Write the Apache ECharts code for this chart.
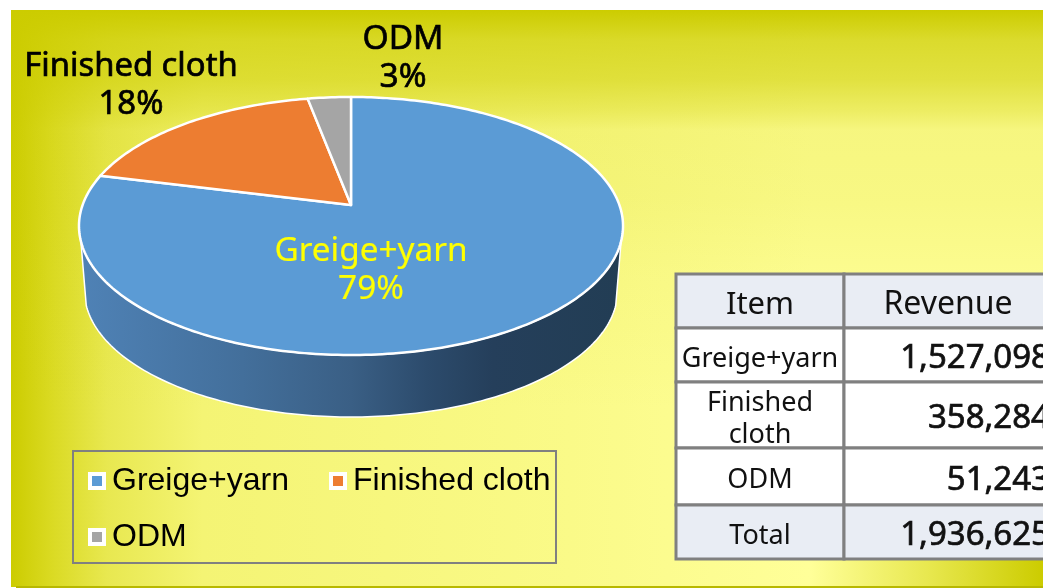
<!DOCTYPE html>
<html><head><meta charset="utf-8">
<style>html,body{margin:0;padding:0;background:#fff}#c{width:1043px;height:588px}</style>
<script src="https://cdn.jsdelivr.net/npm/echarts@6/dist/echarts.min.js"></script>
</head><body><div id="c"></div>
<script>
const categories = ['Greige+yarn', 'Finished cloth', 'ODM'];
const pieShares = [78.9, 18.1, 3.0];
const revenues = [1527098, 358284, 51243];
const tableHeaders = ['Item', 'Revenue'];
const tableRowLabels = ['Greige+yarn', 'Finished\ncloth', 'ODM'];
const totalLabel = 'Total';
const totalRevenue = 1936625;
const colors = ['#5B9BD5', '#ED7D31', '#A5A5A5'];
const labelColors = ['#FFFF00', '#000000', '#000000'];
const labelAnchors = [[371, 270.5], [131, 86], [403, 58.5]];
const labelFonts = ['33.3px "Noto Sans"', '32.8px "Noto Sans"', '33.5px "Noto Sans"'];

const sum = pieShares.reduce((a, b) => a + b, 0);
const cx = 351, apexY = 205, a = 268.4, b = 125.6, k = 0.1628, wallDy = 65, wallScale = 0.98;
const wallFrom = 106, wallTo = 254;

function project(deg, scale, dy) {
  const t = deg * Math.PI / 180, x = Math.sin(t), y = Math.cos(t), d = 1 + k * y;
  return [cx + scale * a * x / d, apexY + dy - scale * b * y / d];
}
function arc(from, to, scale, dy) {
  const out = [], n = Math.max(2, Math.ceil(Math.abs(to - from)));
  for (let i = 0; i <= n; i++) out.push(project(from + (to - from) * i / n, scale, dy));
  return out;
}
const wallFill = new echarts.graphic.LinearGradient(79, 0, 623, 0, [
  {offset: 0, color: '#4F82B6'}, {offset: .3, color: '#436F9B'}, {offset: .5, color: '#3A5F85'},
  {offset: .64, color: '#2C4B6C'}, {offset: .76, color: '#253F5B'}, {offset: 1, color: '#223D54'}
], true);

let acc = 0;
const spans = pieShares.map(v => { const s = acc; acc += v / sum * 360; return [s, acc]; });

const series = categories.map((name, i) => ({
  type: 'custom', name, coordinateSystem: 'none', silent: true,
  itemStyle: {color: colors[i]},
  data: [pieShares[i]],
  z: 3 + i,
  renderItem() {
    const [s, e] = spans[i], children = [];
    const lo = Math.max(s, wallFrom), hi = Math.min(e, wallTo);
    if (hi > lo) {
      children.push({type: 'polygon',
        shape: {points: arc(lo, hi, 1, 0).concat(arc(hi, lo, wallScale, wallDy))},
        style: {fill: wallFill, stroke: '#FFFFFF', lineWidth: 1.5}});
    }
    children.push({type: 'polygon',
      shape: {points: [[cx, apexY]].concat(arc(s, e, 1, 0))},
      style: {fill: colors[i], stroke: '#FFFFFF', lineWidth: 2.5, lineJoin: 'round'}});
    children.push({type: 'text', z2: 50, style: {
      x: labelAnchors[i][0], y: labelAnchors[i][1], align: 'center', verticalAlign: 'middle',
      text: name + '\n' + Math.round(pieShares[i] / sum * 100) + '%',
      fill: labelColors[i], stroke: labelColors[i], lineWidth: i === 0 ? 0.2 : 0.7,
      font: labelFonts[i], lineHeight: 38}});
    return {type: 'group', children};
  }
}));

const bg = [
  {type: 'rect', z: -10, shape: {x: 11, y: 10, width: 1032, height: 577},
   style: {fill: new echarts.graphic.LinearGradient(11, 0, 810, 0, [
     {offset: 0, color: '#CCCC00'}, {offset: .05, color: '#DADA22'}, {offset: .12, color: '#E8E850'},
     {offset: .24, color: '#F4F474'}, {offset: .7, color: '#FAFA88'}, {offset: 1, color: '#FFFF99'}], true)}},
  {type: 'rect', z: -9, shape: {x: 11, y: 10, width: 1032, height: 400},
   style: {fill: new echarts.graphic.LinearGradient(0, 10, 0, 410, [
     {offset: 0, color: 'rgba(204,204,0,1)'}, {offset: .075, color: 'rgba(204,204,0,.71)'},
     {offset: .175, color: 'rgba(204,204,0,.58)'}, {offset: .25, color: 'rgba(204,204,0,.36)'},
     {offset: .3, color: 'rgba(204,204,0,.17)'}, {offset: .475, color: 'rgba(204,204,0,.14)'},
     {offset: .65, color: 'rgba(204,204,0,.07)'}, {offset: 1, color: 'rgba(204,204,0,0)'}], true)}},
  {type: 'rect', z: -8, shape: {x: 810, y: 530, width: 233, height: 57},
   style: {fill: new echarts.graphic.LinearGradient(810, 0, 1043, 0, [
     {offset: 0, color: '#FFFF99'}, {offset: .5, color: '#E8E850'}, {offset: 1, color: '#CCCC00'}], true)}},
  {type: 'rect', z: -7, shape: {x: 16, y: 586, width: 1027, height: 2}, style: {fill: '#B8B800'}},
  {type: 'rect', z: -6, shape: {x: 73, y: 451, width: 483, height: 112},
   style: {fill: 'transparent', stroke: '#808080', lineWidth: 2}}
];

const colX = [676, 844, 1060];
const rowY = [274, 328, 382, 448, 505, 559];
const rows = [[tableHeaders[0], tableHeaders[1]]]
  .concat(tableRowLabels.map((l, i) => [l, revenues[i].toLocaleString('en-US')]))
  .concat([[totalLabel, totalRevenue.toLocaleString('en-US')]]);
const table = [];
rows.forEach((row, r) => {
  const fill = (r === 0 || r === rows.length - 1) ? '#E9EDF4' : '#FFFFFF';
  [0, 1].forEach(c => {
    table.push({type: 'rect', z: 10,
      shape: {x: colX[c], y: rowY[r], width: colX[c + 1] - colX[c], height: rowY[r + 1] - rowY[r]},
      style: {fill, stroke: '#808080', lineWidth: 3}});
    const my = (rowY[r] + rowY[r + 1]) / 2;
    const head = r === 0, num = c === 1 && !head;
    table.push({type: 'text', z: 11, style: {
      x: c === 0 ? 760 : head ? 948 : 1050, y: my + 4,
      align: num ? 'right' : 'center', verticalAlign: 'middle',
      text: row[c], fill: '#111111', lineHeight: 32,
      stroke: num ? '#111111' : 'transparent', lineWidth: num ? 0.7 : 0,
      font: head ? (c === 1 ? '32px "Noto Sans"' : '31px "Noto Sans"') : num ? '33px "Noto Sans"' : '27px "Noto Sans"'}});
  });
});

const legendBase = {
  show: true, top: 465, selectedMode: false, orient: 'vertical',
  itemWidth: 14, itemHeight: 14, itemGap: 24, padding: 0, icon: 'rect',
  itemStyle: {borderColor: '#FFFFFF', borderWidth: 4},
  textStyle: {color: '#000', fontFamily: '"Liberation Sans"', fontSize: 32, padding: [0, 0, 0, 3]}
};

const chart = echarts.init(document.getElementById('c'), null, {renderer: 'canvas'});
chart.setOption({
  animation: false,
  backgroundColor: '#FFFFFF',
  legend: [
    Object.assign({}, legendBase, {left: 88, data: [categories[0], categories[2]]}),
    Object.assign({}, legendBase, {left: 329, data: [categories[1]]})
  ],
  graphic: bg.concat(table),
  series
});
</script></body></html>
